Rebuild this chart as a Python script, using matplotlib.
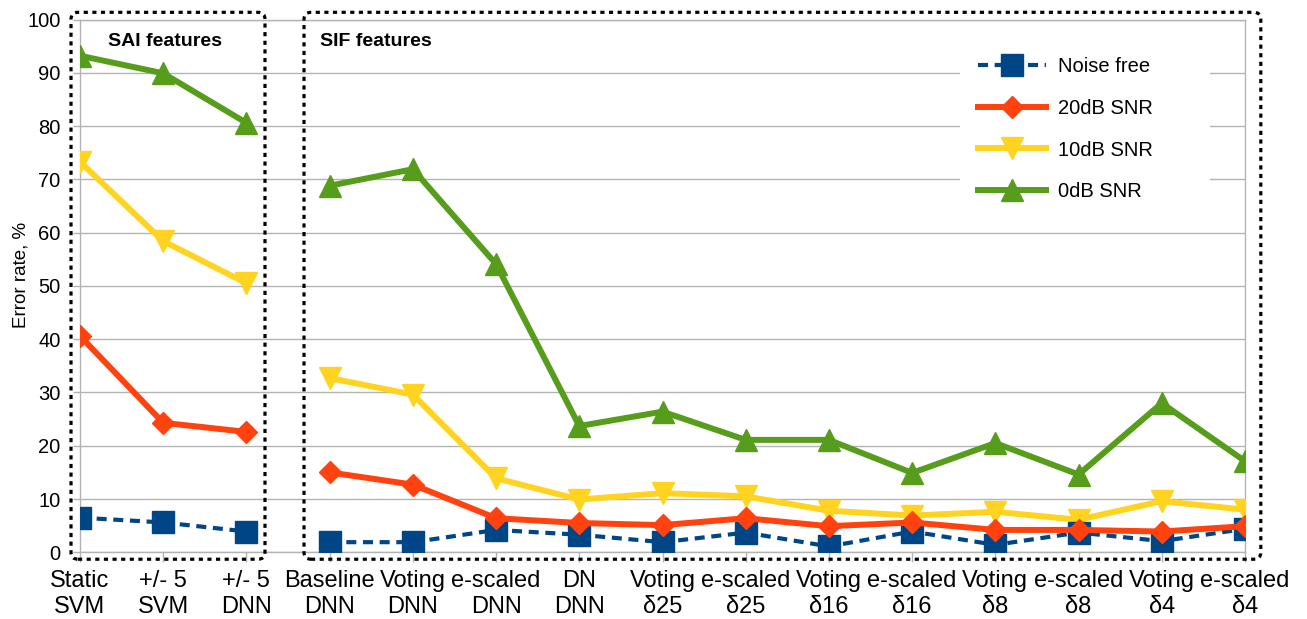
import matplotlib
matplotlib.use("Agg")
import matplotlib.pyplot as plt
from matplotlib.patches import FancyBboxPatch, Rectangle
from matplotlib.lines import Line2D

plt.rcParams['font.family'] = ['Liberation Sans', 'DejaVu Sans']

categories = ["Static\nSVM", "+/- 5\nSVM", "+/- 5\nDNN",
              "Baseline\nDNN", "Voting\nDNN", "e-scaled\nDNN", "DN\nDNN",
              "Voting\nδ25", "e-scaled\nδ25", "Voting\nδ16", "e-scaled\nδ16",
              "Voting\nδ8", "e-scaled\nδ8", "Voting\nδ4", "e-scaled\nδ4"]
n_sai = 3  # first three categories use SAI features, the rest SIF features

noise_free = [6.5, 5.6, 3.9, 1.9, 1.9, 4.2, 3.3, 1.9, 3.7, 1.1, 3.9, 1.4, 3.7, 2.1, 4.4]
snr_20db = [40.6, 24.3, 22.6, 15.0, 12.7, 6.4, 5.5, 5.1, 6.4, 4.9, 5.6, 4.2, 4.2, 3.9, 4.9]
snr_10db = [73.3, 58.4, 50.5, 32.7, 29.6, 13.9, 9.9, 11.1, 10.5, 7.8, 6.9, 7.6, 6.1, 9.6, 8.0]
snr_0db = [93.2, 89.9, 80.6, 68.8, 71.9, 54.1, 23.7, 26.4, 21.1, 21.1, 14.9, 20.5, 14.6, 28.0, 17.1]

series_labels = ["Noise free", "20dB SNR", "10dB SNR", "0dB SNR"]
yticks = [0, 10, 20, 30, 40, 50, 60, 70, 80, 90, 100]

BLUE = "#004586"
RED = "#ff420e"
YELLOW = "#ffd320"
GREEN = "#579d1c"
GRID = "#b3b3b3"

styles = {
    "Noise free": dict(color=BLUE, lw=3.0, ls=(0, (2.4, 1.6)), marker="s", ms=15.5),
    "20dB SNR": dict(color=RED, lw=4.3, marker="D", ms=11.5),
    "10dB SNR": dict(color=YELLOW, lw=4.3, marker="v", ms=15.5),
    "0dB SNR": dict(color=GREEN, lw=4.3, marker="^", ms=15.5),
}
zorders = {"0dB SNR": 3, "10dB SNR": 4, "Noise free": 5, "20dB SNR": 6}
series = {"Noise free": noise_free, "20dB SNR": snr_20db,
          "10dB SNR": snr_10db, "0dB SNR": snr_0db}

W, H = 1307, 619
fig = plt.figure(figsize=(W / 100, H / 100), dpi=100)
ax = fig.add_axes([80 / W, 1 - 552.3 / H, (1245 - 80) / W, (552.3 - 19.5) / H])

x = list(range(len(categories)))

for name in ["0dB SNR", "10dB SNR", "Noise free", "20dB SNR"]:
    vals = series[name]
    ax.plot(x[:n_sai], vals[:n_sai], zorder=zorders[name], **styles[name])
    ax.plot(x[n_sai:], vals[n_sai:], zorder=zorders[name], **styles[name])

ax.set_xlim(0, len(categories) - 1)
ax.set_ylim(0, 100)
ax.set_yticks(yticks)
ax.set_xticks(x)
ax.set_xticklabels(categories, fontsize=17, linespacing=1.2)
ax.tick_params(axis="y", labelsize=14.5, length=5, width=1, color=GRID, pad=9)
ax.tick_params(axis="x", length=7, width=1, color=GRID, pad=6)
ax.yaxis.grid(True, color=GRID, lw=1)
ax.set_axisbelow(True)
for s in ax.spines.values():
    s.set_color(GRID)
    s.set_linewidth(1)

ax.set_ylabel("Error rate, %", fontsize=13.5)
ax.yaxis.set_label_coords(-0.0435, 0.52)

# legend background (white box covering grid lines)
ax.add_patch(Rectangle((960, 619 - 218), 250, 178, transform=None, facecolor="white",
                       edgecolor="none", zorder=1))

handles = [Line2D([], [], **styles[name]) for name in series_labels]
leg = fig.legend(handles, series_labels, loc="upper left",
                 bbox_to_anchor=(978 / W, 1 - 57 / H), frameon=False, fontsize=14.5,
                 handlelength=3.4, handletextpad=0.55, labelspacing=1.13,
                 borderpad=0, borderaxespad=0)

fig.text(165 / W, 1 - 41 / H, "SAI features", fontsize=14, fontweight="bold",
         ha="center", va="center")
fig.text(320 / W, 1 - 41 / H, "SIF features", fontsize=14, fontweight="bold",
         ha="left", va="center")

# dotted group boxes
def group_box(x0, x1, y0, y1):
    p0 = ax.transData.transform((x0, y0))
    p1 = ax.transData.transform((x1, y1))
    box = FancyBboxPatch((p0[0], p0[1]), p1[0] - p0[0], p1[1] - p0[1],
                         boxstyle="round,pad=0,rounding_size=7", transform=None,
                         facecolor="none", edgecolor="black", lw=2.3,
                         ls=(0, (1.3, 1.4)), zorder=10, clip_on=False)
    fig.patches.append(box)

group_box(-0.108, 2.223, -1.3, 101.35)
group_box(2.692, 14.19, -1.3, 101.35)

fig.savefig("out.png", dpi=100)
